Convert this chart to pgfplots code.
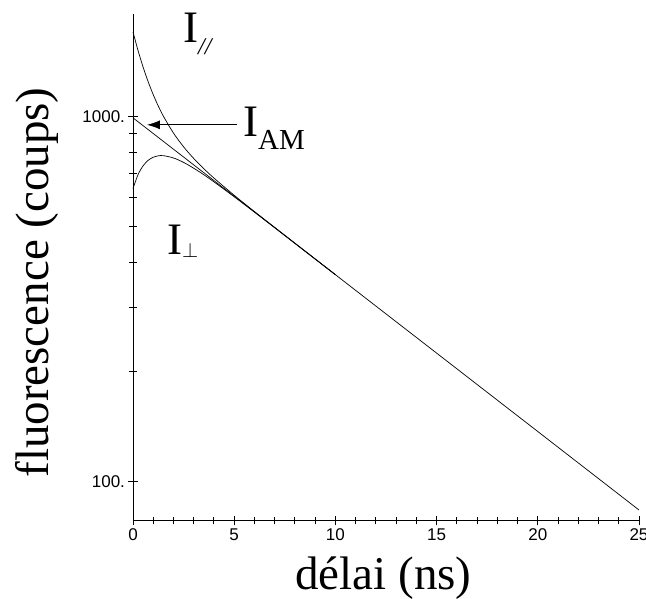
\documentclass[border=0pt]{standalone}
\usepackage{pgfplots}
\pgfplotsset{compat=1.18}
\usepackage{fontspec}
\setmainfont{Liberation Serif}
\newfontfamily\sansf{Liberation Sans}
\usetikzlibrary{arrows.meta}
\begin{document}
\begin{tikzpicture}[x=1pt,y=1pt]
\path[use as bounding box] (0,0) rectangle (646,599);
\begin{axis}[at={(133pt,78pt)}, anchor=south west, scale only axis,
  width=506pt, height=507pt,
  ymode=log, xmin=0, xmax=25, ymin=78, ymax=1915,
  axis x line=bottom, axis y line=left,
  axis line style={-, line width=1pt},
  every inner x axis line/.append style={-},
  every inner y axis line/.append style={-},
  every outer x axis line/.append style={-},
  every outer y axis line/.append style={-},
  xtick={0,5,...,25}, minor x tick num=4,
  ytick={100,1000}, yticklabels={100.,1000.},
  xtick align=center, ytick align=center,
  major tick length=9pt, minor tick length=7pt,
  xtick style={black, line width=1pt},
  ytick style={black, line width=1pt},
  minor tick style={black, line width=1pt},
  tick label style={font=\sansf\fontsize{17}{17}\selectfont},
  /pgf/number format/assume math mode=true,
  clip=false]
\addplot[black, line width=0.7pt] coordinates {
(0,994) (1,900.3) (2,815.4) (4,668.9) (6,548.8) (8,450.2) (10,369.3) (15,225.1) (20,137.2) (25,83.6)};
\addplot[black, line width=0.7pt, smooth] coordinates {
(0,1709.7) (0.25,1519.9) (0.5,1369.1) (0.75,1248.1) (1,1150.4) (1.25,1070.7) (1.5,1004.7) (2,902.8) (2.5,827.7) (3,769.1) (3.5,721.0) (4,679.6) (5,609.6) (6,550.1) (7,497.6) (8,450.4) (10,369.3)};
\addplot[black, line width=0.7pt, smooth] coordinates {
(0,636.2) (0.25,694.6) (0.5,734.5) (0.75,760.3) (1,775.2) (1.25,782.1) (1.5,782.9) (2,771.7) (2.5,750.2) (3,723.2) (3.5,693.9) (4,663.5) (5,604.0) (6,548.2) (7,496.9) (8,450.1) (10,369.3)};
\draw[-{Latex[length=13pt,width=9pt]}, line width=0.9pt] (axis cs:5.14,951) -- (axis cs:0.69,951);
\node[anchor=base west, inner sep=0pt, font=\fontsize{45}{45}\selectfont] at (axis cs:2.47,1596) {I\raisebox{-12pt}{\fontsize{24}{24}\selectfont\itshape //}};
\node[anchor=base west, inner sep=0pt, font=\fontsize{45}{45}\selectfont] at (axis cs:5.43,881) {I\raisebox{-13pt}{\fontsize{29}{29}\selectfont AM}};
\node[anchor=base west, inner sep=0pt, font=\fontsize{45}{45}\selectfont] at (axis cs:1.68,419) {I\raisebox{-3pt}{\fontsize{22}{22}\selectfont$\perp$}};
\end{axis}
\node[anchor=base, inner sep=0pt, font=\fontsize{47}{47}\selectfont] at (383.5,9) {délai (ns)};
\node[anchor=base, rotate=90, inner sep=0pt, font=\fontsize{47}{47}\selectfont] at (48,316.5) {fluorescence (coups)};
\end{tikzpicture}
\end{document}
